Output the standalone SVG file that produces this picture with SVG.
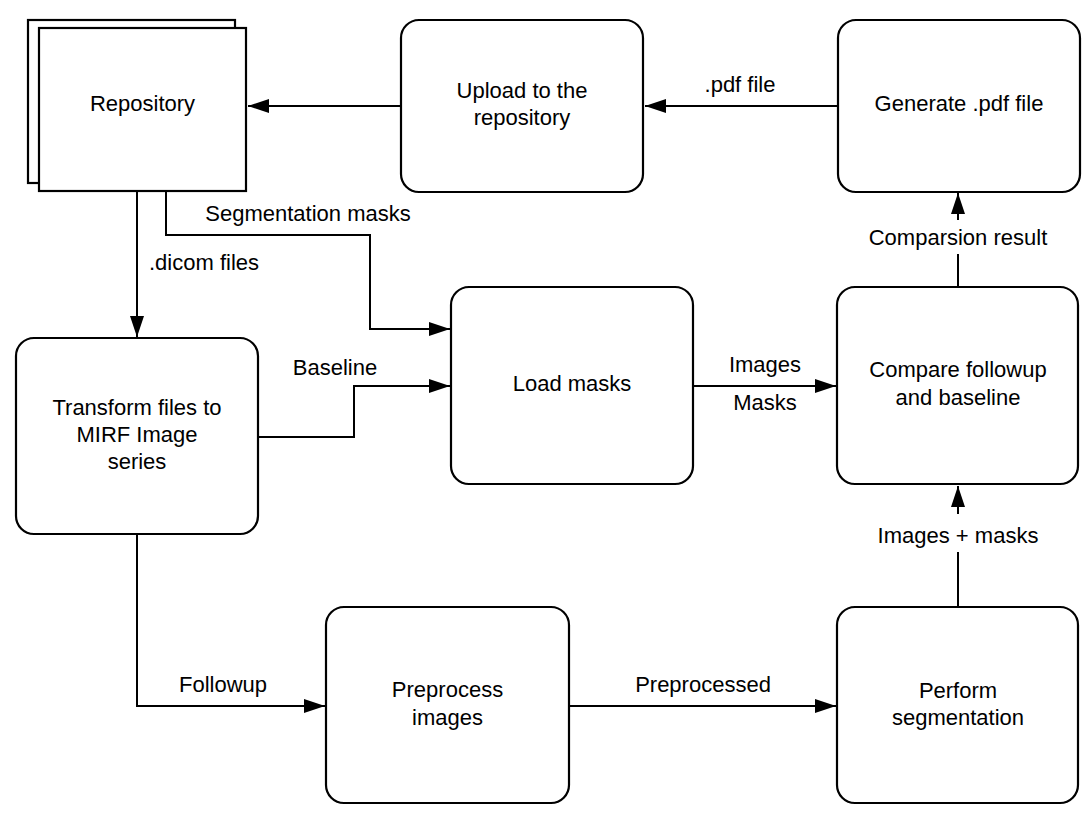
<svg xmlns="http://www.w3.org/2000/svg" width="1089" height="813" viewBox="0 0 1089 813">
<style>
  .box { fill: #ffffff; stroke: #000000; stroke-width: 2.2; }
  .t { font-family: "Liberation Sans", Arial, sans-serif; font-size: 22px; fill: #000000; text-anchor: middle; }
  .c { fill: none; stroke: #000000; stroke-width: 2; }
</style>
<defs>
  <marker id="arr" markerUnits="userSpaceOnUse" markerWidth="22" markerHeight="15" refX="21" refY="7" orient="auto">
    <path d="M0,0 L21,7 L0,14 z" fill="#000000"/>
  </marker>
</defs>
<rect width="1089" height="813" fill="#ffffff"/>

<g id="connectors">
  <path class="c" d="M401,106 H248" marker-end="url(#arr)"/>
  <path class="c" d="M838,106 H645" marker-end="url(#arr)"/>
  <path class="c" d="M958,287 V254 M958,220 V193" marker-end="url(#arr)"/>
  <path class="c" d="M137,191 V337" marker-end="url(#arr)"/>
  <path class="c" d="M166,191 V235 H370 V329 H450" marker-end="url(#arr)"/>
  <path class="c" d="M258,437 H354 V386 H450" marker-end="url(#arr)"/>
  <path class="c" d="M693,386 H836" marker-end="url(#arr)"/>
  <path class="c" d="M137,534 V706 H325" marker-end="url(#arr)"/>
  <path class="c" d="M569,706 H836" marker-end="url(#arr)"/>
  <path class="c" d="M958,607 V552 M958,514 V486" marker-end="url(#arr)"/>
  <text class="t" x="740" y="92">.pdf file</text>
  <text class="t" x="308" y="221">Segmentation masks</text>
  <text class="t" x="204" y="270">.dicom files</text>
  <text class="t" x="958" y="245">Comparsion result</text>
  <text class="t" x="335" y="375">Baseline</text>
  <text class="t" x="765" y="372">Images</text>
  <text class="t" x="765" y="410">Masks</text>
  <text class="t" x="958" y="543">Images + masks</text>
  <text class="t" x="223" y="692">Followup</text>
  <text class="t" x="703" y="692">Preprocessed</text>
</g>

<g id="repository">
  <rect class="box" x="28" y="20" width="207" height="163"/>
  <rect class="box" x="39" y="28" width="207" height="163"/>
  <text class="t" x="142.5" y="111">Repository</text>
</g>

<g id="upload">
  <rect class="box" x="401" y="20" width="242" height="172" rx="18" ry="18"/>
  <text class="t" x="522" y="98">Upload to the</text>
  <text class="t" x="522" y="125">repository</text>
</g>

<g id="generate">
  <rect class="box" x="838" y="20" width="242" height="172" rx="18" ry="18"/>
  <text class="t" x="959" y="111">Generate .pdf file</text>
</g>

<g id="transform">
  <rect class="box" x="16" y="338" width="242" height="196" rx="18" ry="18"/>
  <text class="t" x="137" y="415">Transform files to</text>
  <text class="t" x="137" y="442">MIRF Image</text>
  <text class="t" x="137" y="469">series</text>
</g>

<g id="load-masks">
  <rect class="box" x="451" y="287" width="242" height="197" rx="18" ry="18"/>
  <text class="t" x="572" y="391">Load masks</text>
</g>

<g id="compare">
  <rect class="box" x="837" y="287" width="241" height="197" rx="18" ry="18"/>
  <text class="t" x="958" y="377">Compare followup</text>
  <text class="t" x="958" y="405">and baseline</text>
</g>

<g id="preprocess">
  <rect class="box" x="326" y="607" width="243" height="196" rx="18" ry="18"/>
  <text class="t" x="447.5" y="697">Preprocess</text>
  <text class="t" x="447.5" y="725">images</text>
</g>

<g id="perform">
  <rect class="box" x="837" y="607" width="241" height="196" rx="18" ry="18"/>
  <text class="t" x="958" y="698">Perform</text>
  <text class="t" x="958" y="725">segmentation</text>
</g>
</svg>
